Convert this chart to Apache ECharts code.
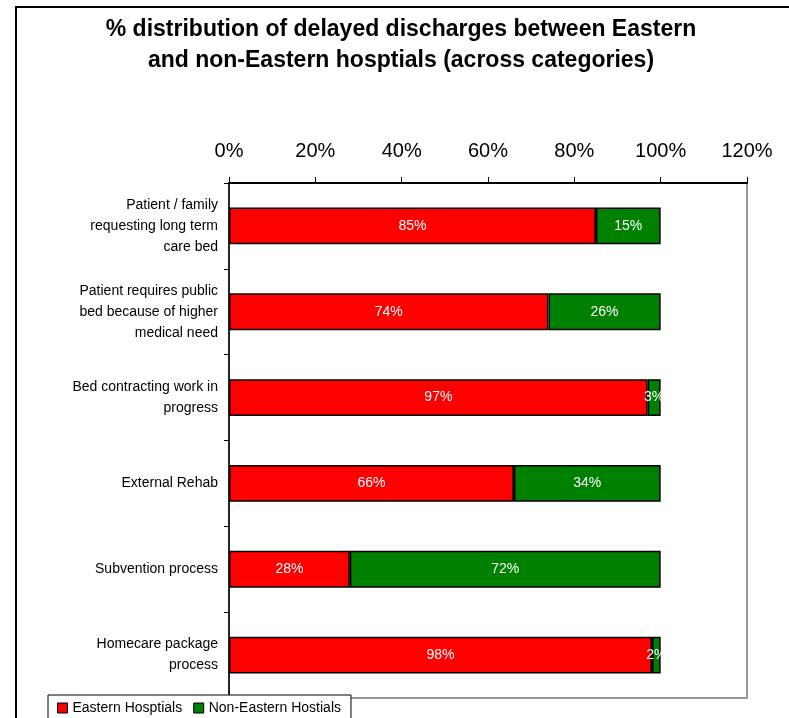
<!DOCTYPE html>
<html>
<head>
<meta charset="utf-8">
<script src="https://cdn.jsdelivr.net/npm/echarts@6/dist/echarts.min.js"></script>
<style>
  html, body { margin: 0; padding: 0; background: #fff; }
  #chart { width: 789px; height: 718px; }
</style>
</head>
<body>
<div id="chart"></div>
<script>
// Delayed discharge categories (top to bottom)
const categories = [
  'Patient / family\nrequesting long term\ncare bed',
  'Patient requires public\nbed because of higher\nmedical need',
  'Bed contracting work in\nprogress',
  'External Rehab',
  'Subvention process',
  'Homecare package\nprocess'
];
// Share of delayed discharges, in percent
const easternShare = [85, 74, 97, 66, 28, 98];
const nonEasternShare = [15, 26, 3, 34, 72, 2];
const seriesNames = ['Eastern Hosptials', 'Non-Eastern Hostials'];

const FONT = '"Liberation Sans", Arial, sans-serif';

const chart = echarts.init(document.getElementById('chart'), null, { renderer: 'canvas' });

const barLabel = {
  show: true,
  position: 'inside',
  color: '#ffffff',
  fontSize: 14,
  fontFamily: FONT,
  formatter: '{c}%'
};

chart.setOption({
  backgroundColor: '#ffffff',
  animation: false,
  title: {
    text: '% distribution of delayed discharges between Eastern\nand non-Eastern hosptials (across categories)',
    left: 396,
    textAlign: 'center',
    top: 9,
    textStyle: {
      fontFamily: FONT,
      fontWeight: 'bold',
      fontSize: 23,
      lineHeight: 31,
      color: '#000'
    }
  },
  graphic: [{
    type: 'rect',
    shape: { x: 16, y: 7, width: 800, height: 800 },
    style: { fill: 'none', stroke: '#000', lineWidth: 2 },
    silent: true,
    z: -1
  }],
  legend: {
    data: seriesNames,
    left: 48,
    top: 695,
    orient: 'horizontal',
    backgroundColor: '#fff',
    borderColor: '#000',
    borderWidth: 1,
    padding: [6, 10, 8, 9],
    itemWidth: 10,
    itemHeight: 10,
    itemGap: 11,
    icon: 'rect',
    z: 10,
    itemStyle: { borderColor: '#000', borderWidth: 1 },
    textStyle: { fontFamily: FONT, fontSize: 14, color: '#000' }
  },
  grid: {
    left: 229,
    right: 42,
    top: 183,
    bottom: 20,
    show: true,
    borderColor: '#999',
    borderWidth: 2,
    containLabel: false
  },
  xAxis: {
    type: 'value',
    position: 'top',
    min: 0,
    max: 120,
    interval: 20,
    axisLine: { show: true, lineStyle: { color: '#000', width: 2 } },
    axisTick: { show: true, inside: false, length: 6, lineStyle: { color: '#000', width: 1 } },
    splitLine: { show: false },
    axisLabel: {
      fontFamily: FONT,
      fontSize: 20,
      color: '#000',
      margin: 22,
      formatter: '{value}%'
    }
  },
  yAxis: {
    type: 'category',
    inverse: true,
    data: categories,
    axisLine: { show: true, lineStyle: { color: '#000', width: 1.5 } },
    axisTick: { show: true, inside: false, length: 5, lineStyle: { color: '#000' } },
    axisLabel: {
      fontFamily: FONT,
      fontSize: 14,
      color: '#000',
      lineHeight: 21,
      margin: 11,
      align: 'right'
    }
  },
  series: [
    {
      name: seriesNames[0],
      type: 'bar',
      stack: 'share',
      data: easternShare,
      barCategoryGap: '57%',
      itemStyle: { color: '#ff0000', borderColor: '#000', borderWidth: 1.5 },
      label: barLabel
    },
    {
      name: seriesNames[1],
      type: 'bar',
      stack: 'share',
      data: nonEasternShare,
      barCategoryGap: '57%',
      itemStyle: { color: '#008000', borderColor: '#000', borderWidth: 1.5 },
      label: barLabel
    }
  ]
});
</script>
</body>
</html>
